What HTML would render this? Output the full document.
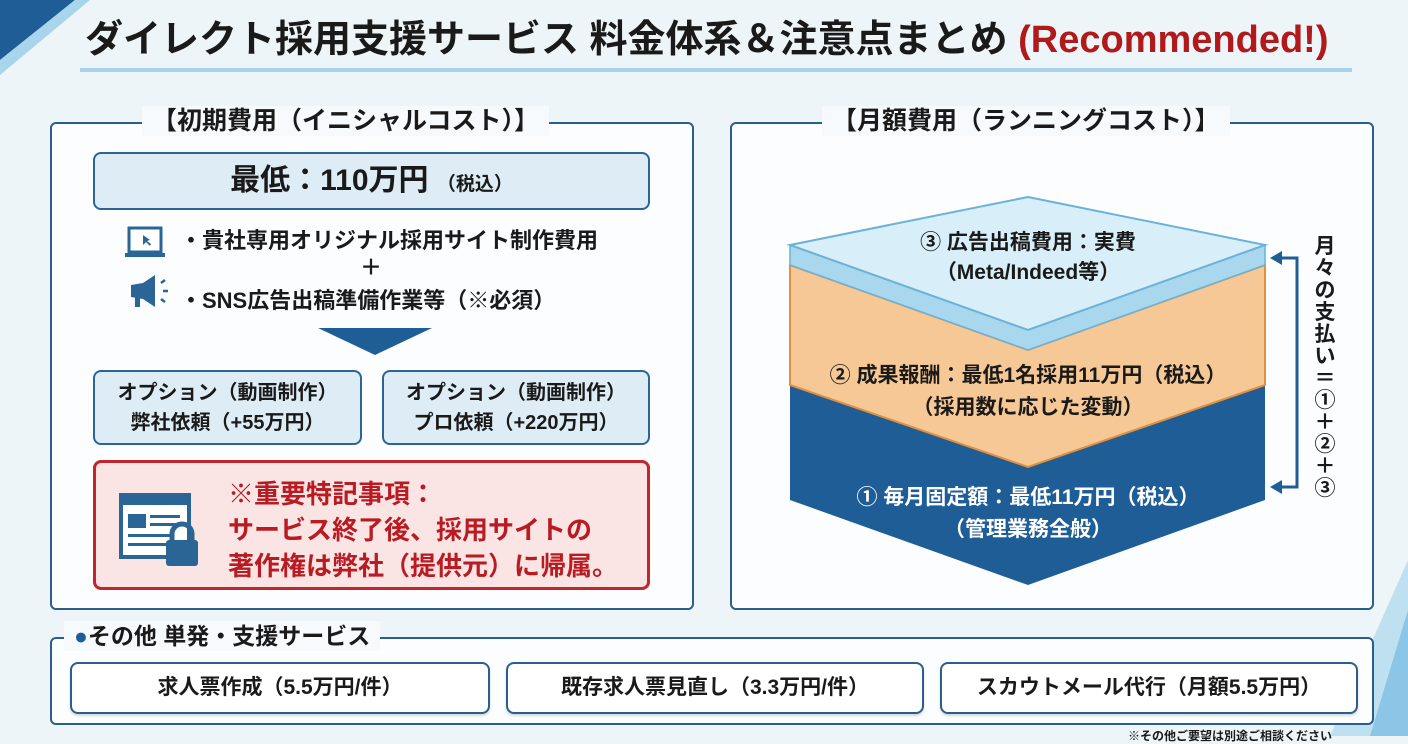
<!DOCTYPE html>
<html><head><meta charset="utf-8"><style>
*{margin:0;padding:0;box-sizing:border-box}
body{width:1408px;height:736px;overflow:hidden;background:#eef5f8;font-family:"Liberation Sans","Noto Sans CJK JP",sans-serif;font-weight:bold;color:#1a1a1a;position:relative}
.a{position:absolute}
.panel{position:absolute;border:2px solid #2a5e8c;border-radius:6px;background:#fbfdfe}
.hd{position:absolute;background:#f6fafc;padding:0 10px;font-size:25px;white-space:nowrap;line-height:30px;text-align:center}
.bx{position:absolute;border:2px solid #2a6596;border-radius:8px;background:#deedf5;text-align:center}
.sb{position:absolute;border:2px solid #2a5e8c;border-radius:8px;background:#fff;text-align:center;font-size:21px;line-height:48px;box-shadow:0 2px 2px rgba(0,0,0,.15)}
</style></head><body>
<svg class="a" style="left:0;top:0" width="1408" height="736">
<polygon points="0,0 75,0 0,60" fill="#1f5d96"/>
<polygon points="0,60 75,0 90,0 0,75" fill="#a8d4ec"/>
<polygon points="1408,560 1408,736 1330,736" fill="#bfe0f0"/>
<polygon points="1408,610 1408,736 1370,736" fill="#8cc6e6"/>
</svg>
<div class="a" style="left:85px;top:16px;font-size:38px;line-height:48px;white-space:nowrap">ダイレクト採用支援サービス 料金体系＆注意点まとめ <span style="color:#b01a1a">(Recommended!)</span></div>
<div class="a" style="left:80px;top:68px;width:1272px;height:4px;background:#a9d3e8"></div>

<div class="panel" style="left:50px;top:122px;width:644px;height:488px"></div>
<div class="hd" style="left:142px;top:106px">【初期費用（イニシャルコスト）】</div>
<div class="bx" style="left:93px;top:152px;width:557px;height:58px;line-height:54px;font-size:30px">最低：110万円 <span style="font-size:19px">（税込）</span></div>
<svg class="a" style="left:125px;top:225px" width="50" height="90">
<rect x="4" y="3" width="32" height="24" fill="#fff" stroke="#2a6596" stroke-width="3"/>
<rect x="0" y="28" width="40" height="4" fill="#2a6596"/>
<polygon points="18,10 18,20 21,17 25,21 26,19 22,16 25,15" fill="#2a6596"/>
<polygon points="6,60 18,58 30,50 30,82 18,74 6,72" fill="#2a6596"/>
<rect x="10" y="72" width="5" height="10" fill="#2a6596"/>
<path d="M36,58 l4,-3 M38,66 h5 M36,74 l4,3" stroke="#2a6596" stroke-width="2.5"/>
</svg>
<div class="a" style="left:180px;top:227px;font-size:22px;line-height:28px;white-space:nowrap">・貴社専用オリジナル採用サイト制作費用</div>
<div class="a" style="left:360px;top:255px;font-size:22px;line-height:26px">＋</div>
<div class="a" style="left:180px;top:287px;font-size:22px;line-height:28px;white-space:nowrap">・SNS広告出稿準備作業等（※必須）</div>
<svg class="a" style="left:318px;top:328px" width="114" height="28"><polygon points="0,0 114,0 57,27" fill="#1f5d96"/></svg>
<div class="bx" style="left:93px;top:370px;width:269px;height:75px;font-size:20px;line-height:30px;padding-top:6px">オプション（動画制作）<br>弊社依頼（+55万円）</div>
<div class="bx" style="left:382px;top:370px;width:268px;height:75px;font-size:20px;line-height:30px;padding-top:6px">オプション（動画制作）<br>プロ依頼（+220万円）</div>
<div class="a" style="left:93px;top:460px;width:557px;height:130px;border:3px solid #c0262d;border-radius:8px;background:#fbe4e4"></div>
<svg class="a" style="left:118px;top:492px" width="92" height="76">
<rect x="3" y="3" width="68" height="62" fill="#fff" stroke="#2a6596" stroke-width="4"/>
<rect x="3" y="3" width="68" height="10" fill="#2a6596"/>
<rect x="10" y="22" width="18" height="14" fill="#2a6596"/>
<rect x="32" y="23" width="30" height="3" fill="#2a6596"/><rect x="32" y="31" width="30" height="3" fill="#2a6596"/>
<rect x="10" y="42" width="45" height="3" fill="#2a6596"/><rect x="10" y="51" width="45" height="3" fill="#2a6596"/>
<path d="M54,50 v-8 a10,10 0 0 1 20,0 v8" fill="none" stroke="#2a6596" stroke-width="5"/>
<rect x="48" y="48" width="32" height="26" rx="3" fill="#2a6596"/>
</svg>
<div class="a" style="left:228px;top:476px;font-size:26px;line-height:36px;color:#b81c22;white-space:nowrap">※重要特記事項：<br>サービス終了後、採用サイトの<br>著作権は弊社（提供元）に帰属。</div>

<div class="panel" style="left:730px;top:122px;width:644px;height:488px"></div>
<div class="hd" style="left:822px;top:106px">【月額費用（ランニングコスト）】</div>
<svg class="a" style="left:0;top:0" width="1408" height="736">
<polygon points="790,385 1028,467 1265,385 1265,500 1028,585 790,500" fill="#1f5d96"/>
<polygon points="790,265 1028,350 1265,265 1265,385 1028,467 790,385" fill="#f6c896" stroke="#e09040" stroke-width="2"/>
<polygon points="790,245 1028,330 1265,245 1265,265 1028,350 790,265" fill="#a9d8ee" stroke="#6ab2d8" stroke-width="1.5"/>
<polygon points="790,245 1028,197 1265,245 1028,330" fill="#d8eef8" stroke="#6ab2d8" stroke-width="2"/>
<path d="M1274,258 H1297 V487 H1274" fill="none" stroke="#1f5d96" stroke-width="3"/>
<polygon points="1270,258 1282,251 1282,265" fill="#1f5d96"/>
<polygon points="1270,487 1282,480 1282,494" fill="#1f5d96"/>
</svg>
<div class="a" style="left:790px;top:228px;width:476px;text-align:center;font-size:21px;line-height:30px">③ 広告出稿費用：実費<br>（Meta/Indeed等）</div>
<div class="a" style="left:790px;top:360px;width:476px;text-align:center;font-size:21px;line-height:32px">② 成果報酬：最低1名採用11万円（税込）<br>（採用数に応じた変動）</div>
<div class="a" style="left:790px;top:482px;width:476px;text-align:center;font-size:21px;line-height:32px;color:#fff">① 毎月固定額：最低11万円（税込）<br>（管理業務全般）</div>
<div class="a" style="left:1311px;top:236px;width:28px;font-size:21px;line-height:22px;text-align:center">月<br>々<br>の<br>支<br>払<br>い<br>＝<br>①<br>＋<br>②<br>＋<br>③</div>

<div class="panel" style="left:50px;top:637px;width:1324px;height:88px"></div>
<div class="hd" style="left:64px;top:621px;font-size:23px"><span style="color:#1f5d96">●</span>その他 単発・支援サービス</div>
<div class="sb" style="left:70px;top:662px;width:420px;height:52px">求人票作成（5.5万円/件）</div>
<div class="sb" style="left:506px;top:662px;width:418px;height:52px">既存求人票見直し（3.3万円/件）</div>
<div class="sb" style="left:940px;top:662px;width:418px;height:52px">スカウトメール代行（月額5.5万円）</div>
<div class="a" style="left:1128px;top:727px;font-size:12px;white-space:nowrap">※その他ご要望は別途ご相談ください</div>
</body></html>
